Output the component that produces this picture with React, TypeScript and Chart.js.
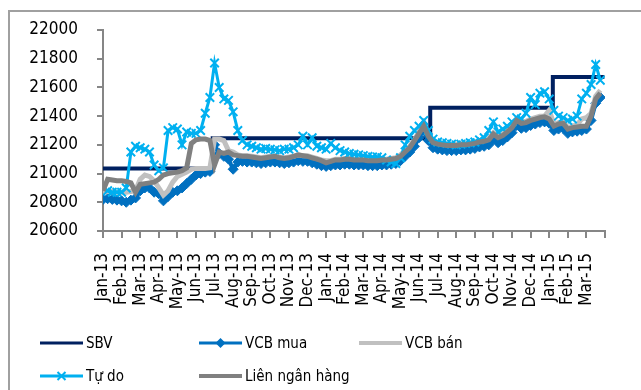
import React, { useEffect, useRef } from 'react';
import { Chart, registerables } from 'chart.js';

Chart.register(...registerables);

// Month labels on the x axis (one tick per month, Jan-13 .. Mar-15)
const monthLabels = [
  'Jan-13', 'Feb-13', 'Mar-13', 'Apr-13', 'May-13', 'Jun-13', 'Jul-13', 'Aug-13', 'Sep-13',
  'Oct-13', 'Nov-13', 'Dec-13', 'Jan-14', 'Feb-14', 'Mar-14', 'Apr-14', 'May-14', 'Jun-14',
  'Jul-14', 'Aug-14', 'Sep-14', 'Oct-14', 'Nov-14', 'Dec-14', 'Jan-15', 'Feb-15', 'Mar-15',
];

// Weekly observations: four samples per month
const samplesPerMonth = 4;

// SBV ceiling rate: change dates and levels
const sbvDates = ['2013-01-01', '2013-06-28', '2014-06-19', '2015-01-07', '2015-03-31'];
const sbvRates = [21036, 21246, 21458, 21673, 21673];

const vcbMua = [
  20820, 20825, 20820, 20815, 20810, 20800, 20815, 20830, 20880, 20900, 20900, 20870,
  20860, 20810, 20840, 20870, 20880, 20900, 20930, 20960, 20990, 21000, 21010, 21015,
  21200, 21140, 21120, 21100, 21030, 21080, 21085, 21080, 21080, 21075, 21070, 21075,
  21080, 21080, 21075, 21070, 21075, 21080, 21090, 21085, 21085, 21075, 21065, 21055,
  21050, 21055, 21060, 21060, 21065, 21065, 21060, 21060, 21060, 21055, 21055, 21055,
  21060, 21060, 21065, 21070, 21090, 21120, 21150, 21190, 21250, 21300, 21230, 21180,
  21170, 21165, 21160, 21160, 21160, 21165, 21165, 21170, 21175, 21185, 21190, 21200,
  21240, 21215, 21230, 21255, 21285, 21335, 21315, 21320, 21335, 21345, 21355, 21360,
  21350, 21300, 21310, 21315, 21280, 21290, 21295, 21300, 21310, 21370, 21490, 21530,
];

const vcbBan = [
  20870, 20875, 20875, 20870, 20870, 20870, 20875, 20880, 20960, 20990, 20980, 20950,
  20900, 20850, 20880, 20940, 20980, 20995, 21010, 21030, 21036, 21036, 21036, 21040,
  21240, 21240, 21230, 21160, 21150, 21130, 21125, 21125, 21120, 21115, 21110, 21115,
  21120, 21120, 21115, 21110, 21115, 21120, 21130, 21125, 21125, 21115, 21105, 21095,
  21090, 21090, 21100, 21100, 21105, 21105, 21100, 21100, 21100, 21095, 21095, 21095,
  21100, 21100, 21105, 21110, 21130, 21160, 21190, 21235, 21290, 21340, 21270, 21230,
  21215, 21210, 21205, 21205, 21205, 21210, 21210, 21215, 21220, 21230, 21235, 21245,
  21285, 21260, 21275, 21300, 21330, 21380, 21360, 21365, 21380, 21390, 21400, 21400,
  21440, 21345, 21355, 21360, 21320, 21330, 21340, 21380, 21390, 21420, 21540, 21580,
];

const tuDo = [
  20900, 20880, 20870, 20870, 20870, 20900, 21150, 21190, 21180, 21170, 21150, 21060,
  21020, 21040, 21300, 21320, 21310, 21200, 21290, 21280, 21280, 21300, 21420, 21530,
  21770, 21600, 21520, 21510, 21430, 21300, 21230, 21200, 21190, 21180, 21170, 21175,
  21170, 21165, 21160, 21170, 21170, 21180, 21200, 21260, 21200, 21250, 21190, 21180,
  21170, 21210, 21180, 21160, 21150, 21140, 21135, 21130, 21125, 21120, 21115, 21115,
  21110, 21095, 21080, 21070, 21110, 21200, 21260, 21300, 21330, 21370, 21300, 21240,
  21220, 21215, 21210, 21205, 21200, 21205, 21210, 21215, 21220, 21235, 21250, 21300,
  21360, 21290, 21310, 21330, 21360, 21390, 21380, 21420, 21530, 21480, 21560, 21570,
  21520, 21440, 21400, 21390, 21370, 21380, 21400, 21520, 21560, 21620, 21760, 21650,
];

const lienNganHang = [
  20880, 20960, 20955, 20950, 20950, 20945, 20935, 20870, 20925, 20930, 20935, 20940,
  20960, 20990, 21000, 21005, 21010, 21020, 21040, 21210, 21235, 21240, 21240, 21230,
  21060, 21150, 21140, 21150, 21130, 21125, 21120, 21120, 21115, 21110, 21105, 21110,
  21115, 21120, 21110, 21105, 21110, 21120, 21130, 21125, 21120, 21110, 21100, 21090,
  21075, 21085, 21095, 21095, 21100, 21100, 21095, 21095, 21095, 21090, 21090, 21090,
  21095, 21095, 21100, 21105, 21120, 21150, 21180, 21230, 21280, 21330, 21260, 21215,
  21205, 21200, 21195, 21195, 21195, 21200, 21200, 21205, 21210, 21220, 21225, 21235,
  21275, 21250, 21265, 21290, 21320, 21370, 21350, 21355, 21370, 21380, 21390, 21395,
  21380, 21330, 21345, 21350, 21310, 21320, 21325, 21330, 21330, 21400, 21520, 21560,
];

const yMin = 20600;
const yMax = 22000;
const yStep = 200;

const FONT = "'DejaVu Sans Condensed', 'DejaVu Sans', sans-serif";
const AXIS_GREY = '#868686';

const COLORS = {
  sbv: '#002060',
  vcbMua: '#0070C0',
  vcbBan: '#C0C0C0',
  tuDo: '#00B0F0',
  lnh: '#808080',
};

// Fractional month index counted from Jan 2013
function monthPosition(iso: string): number {
  const [y, m, d] = iso.split('-').map(Number);
  const daysInMonth = new Date(y, m, 0).getDate();
  return (y - 2013) * 12 + (m - 1) + (d - 1) / daysInMonth;
}

function weekly(values: number[]) {
  return values.map((v, i) => ({ x: i / samplesPerMonth, y: v }));
}

type LegendItem = {
  label: string;
  color: string;
  width: number;
  marker?: 'diamond' | 'cross';
  col: number;
  row: number;
};

const legendItems: LegendItem[] = [
  { label: 'SBV', color: COLORS.sbv, width: 3, col: 0, row: 0 },
  { label: 'VCB mua', color: COLORS.vcbMua, width: 3, marker: 'diamond', col: 1, row: 0 },
  { label: 'VCB bán', color: COLORS.vcbBan, width: 4, col: 2, row: 0 },
  { label: 'Tự do', color: COLORS.tuDo, width: 3, marker: 'cross', col: 0, row: 1 },
  { label: 'Liên ngân hàng', color: COLORS.lnh, width: 4, col: 1, row: 1 },
];

const legendCols = [40, 199, 359];
const legendRows = [343, 376];
const legendLine = 43;

const framePlugin = {
  id: 'frame',
  beforeDraw(chart: Chart) {
    const ctx = chart.ctx;
    ctx.save();
    ctx.strokeStyle = '#A0A0A0';
    ctx.lineWidth = 2;
    ctx.beginPath();
    ctx.moveTo(9, chart.height);
    ctx.lineTo(9, 11);
    ctx.lineTo(chart.width, 11);
    ctx.stroke();
    ctx.restore();
  },
};

const gridLegendPlugin = {
  id: 'gridLegend',
  afterDraw(chart: Chart) {
    const ctx = chart.ctx;
    ctx.save();
    for (const item of legendItems) {
      const x0 = legendCols[item.col];
      const y = legendRows[item.row];
      ctx.strokeStyle = item.color;
      ctx.lineWidth = item.width;
      ctx.beginPath();
      ctx.moveTo(x0, y);
      ctx.lineTo(x0 + legendLine, y);
      ctx.stroke();
      const cx = x0 + legendLine / 2;
      if (item.marker === 'diamond') {
        ctx.fillStyle = item.color;
        ctx.beginPath();
        ctx.moveTo(cx, y - 5);
        ctx.lineTo(cx + 5, y);
        ctx.lineTo(cx, y + 5);
        ctx.lineTo(cx - 5, y);
        ctx.closePath();
        ctx.fill();
      } else if (item.marker === 'cross') {
        ctx.lineWidth = 2;
        ctx.beginPath();
        ctx.moveTo(cx - 4, y - 4);
        ctx.lineTo(cx + 4, y + 4);
        ctx.moveTo(cx + 4, y - 4);
        ctx.lineTo(cx - 4, y + 4);
        ctx.stroke();
      }
      ctx.fillStyle = '#000';
      ctx.font = `15px ${FONT}`;
      ctx.textAlign = 'left';
      ctx.textBaseline = 'middle';
      ctx.fillText(item.label, x0 + legendLine + 3, y + 1);
    }
    ctx.restore();
  },
};

export default function App() {
  const canvasRef = useRef<HTMLCanvasElement | null>(null);

  useEffect(() => {
    if (!canvasRef.current) return;
    const chart = new Chart(canvasRef.current, {
      type: 'line',
      data: {
        datasets: [
          {
            label: 'SBV',
            data: sbvDates.map((d, i) => ({ x: monthPosition(d), y: sbvRates[i] })),
            borderColor: COLORS.sbv,
            backgroundColor: COLORS.sbv,
            borderWidth: 4,
            stepped: true,
            pointRadius: 0,
            order: 5,
          },
          {
            label: 'VCB mua',
            data: weekly(vcbMua),
            borderColor: COLORS.vcbMua,
            backgroundColor: COLORS.vcbMua,
            borderWidth: 4,
            pointStyle: 'rectRot',
            pointRadius: 5,
            pointBorderWidth: 1,
            order: 4,
          },
          {
            label: 'VCB bán',
            data: weekly(vcbBan),
            borderColor: COLORS.vcbBan,
            backgroundColor: COLORS.vcbBan,
            borderWidth: 5,
            pointRadius: 0,
            order: 3,
          },
          {
            label: 'Tự do',
            data: weekly(tuDo),
            borderColor: COLORS.tuDo,
            backgroundColor: COLORS.tuDo,
            borderWidth: 3,
            pointStyle: 'crossRot',
            pointRadius: 6,
            pointBorderWidth: 2,
            order: 2,
          },
          {
            label: 'Liên ngân hàng',
            data: weekly(lienNganHang),
            borderColor: COLORS.lnh,
            backgroundColor: COLORS.lnh,
            borderWidth: 5,
            pointRadius: 0,
            order: 1,
          },
        ],
      },
      options: {
        animation: false,
        responsive: false,
        devicePixelRatio: 1,
        events: [],
        layout: { padding: { left: 0, top: 30, right: 36, bottom: 0 } },
        elements: { line: { tension: 0 } },
        plugins: {
          legend: { display: false },
          tooltip: { enabled: false },
          title: { display: false },
        },
        scales: {
          x: {
            type: 'linear',
            min: 0,
            max: monthLabels.length,
            afterFit: (scale: any) => {
              scale.height = 159;
            },
            ticks: {
              stepSize: 1,
              autoSkip: false,
              minRotation: 90,
              maxRotation: 90,
              padding: 15,
              color: '#000',
              font: { family: FONT, size: 17 },
              callback: (value: any) => monthLabels[Number(value)] ?? '',
            },
            grid: {
              drawOnChartArea: false,
              drawTicks: true,
              tickLength: 7,
              color: AXIS_GREY,
              lineWidth: 2,
            },
            border: { display: true, color: AXIS_GREY, width: 2 },
          },
          y: {
            min: yMin,
            max: yMax,
            afterFit: (scale: any) => {
              scale.width = 103;
            },
            ticks: {
              stepSize: yStep,
              padding: 19,
              color: '#000',
              font: { family: FONT, size: 17 },
              callback: (value: any) => String(value),
            },
            grid: {
              drawOnChartArea: false,
              drawTicks: true,
              tickLength: 6,
              color: AXIS_GREY,
              lineWidth: 2,
            },
            border: { display: true, color: AXIS_GREY, width: 2 },
          },
        },
      },
      plugins: [framePlugin, gridLegendPlugin],
    });
    return () => chart.destroy();
  }, []);

  return (
    <div style={{ position: 'fixed', left: 0, top: 0, width: 641, height: 390, background: '#fff' }}>
      <canvas ref={canvasRef} width={641} height={390} style={{ display: 'block' }} />
    </div>
  );
}
